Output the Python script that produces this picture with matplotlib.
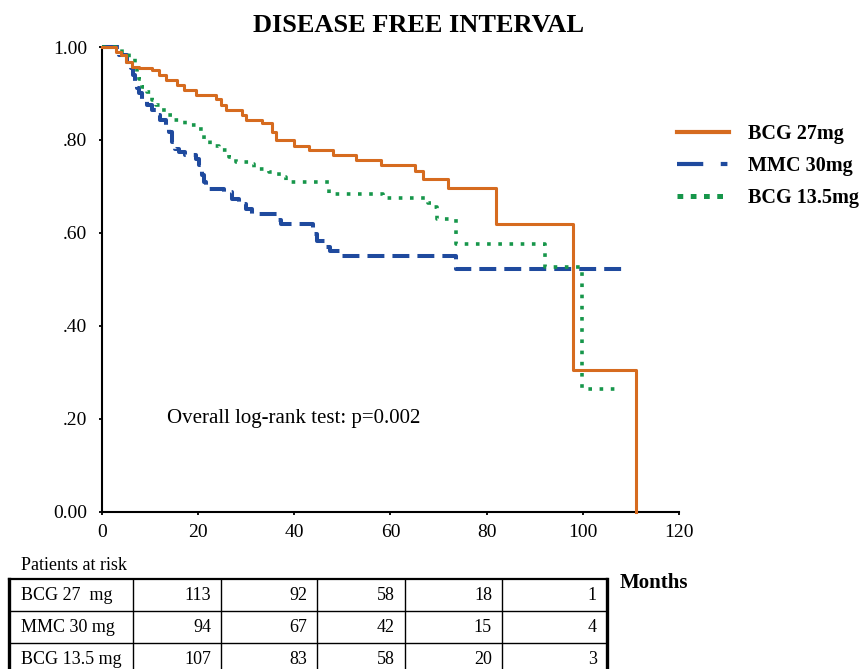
import matplotlib
matplotlib.use('Agg')
import matplotlib.pyplot as plt
from matplotlib.lines import Line2D

plt.rcParams['font.family'] = ['Liberation Serif', 'DejaVu Serif']

# Kaplan-Meier steps (months, proportion disease free)
bcg27_t = [0, 3.0, 4.0, 5.0, 6.3, 7.7, 10.4, 11.9, 13.3, 15.6, 17.0, 19.5, 23.7, 24.7, 25.8,
           29.2, 29.9, 33.3, 35.4, 36.2, 40.0, 43.1, 48.0, 52.8, 58.0, 65.0, 66.7, 71.9,
           82.0, 98.0, 111.0]
bcg27_s = [1.0, 0.99, 0.983, 0.968, 0.957, 0.954, 0.950, 0.94, 0.929, 0.918, 0.907, 0.896,
           0.889, 0.875, 0.864, 0.853, 0.842, 0.836, 0.817, 0.799, 0.788, 0.778, 0.767,
           0.757, 0.747, 0.734, 0.716, 0.697, 0.619, 0.306, 0.0]

mmc30_t = [0, 3.5, 5.2, 6.0, 6.5, 7.0, 7.4, 7.7, 8.3, 9.4, 10.4, 11.2, 12.2, 13.3, 14.0,
           14.6, 15.3, 16.0, 17.4, 19.5, 20.2, 20.8, 21.2, 21.6, 25.4, 27.1, 28.5, 29.9,
           31.3, 36.5, 37.2, 43.8, 44.8, 46.5, 47.5, 49.8, 73.7, 109.4]
mmc30_s = [1.0, 0.983, 0.968, 0.954, 0.94, 0.925, 0.911, 0.900, 0.889, 0.875, 0.864, 0.853,
           0.842, 0.832, 0.817, 0.796, 0.781, 0.774, 0.767, 0.760, 0.745, 0.724, 0.709,
           0.695, 0.687, 0.673, 0.662, 0.652, 0.640, 0.628, 0.619, 0.598, 0.583, 0.569,
           0.560, 0.551, 0.522, 0.522]

bcg135_t = [0, 4.2, 5.6, 7.0, 7.4, 7.7, 8.3, 9.4, 10.4, 11.2, 12.2, 13.3, 14.6, 17.4, 20.2,
            21.2, 22.6, 24.4, 26.5, 27.8, 30.6, 31.7, 34.8, 36.9, 38.2, 47.3, 58.4, 67.8,
            68.8, 69.7, 73.7, 92.0, 99.7, 107.0]
bcg135_s = [1.0, 0.988, 0.976, 0.965, 0.947, 0.932, 0.914, 0.904, 0.886, 0.875, 0.864,
            0.853, 0.842, 0.832, 0.824, 0.803, 0.788, 0.778, 0.763, 0.752, 0.749, 0.738,
            0.731, 0.720, 0.709, 0.684, 0.675, 0.665, 0.655, 0.630, 0.576, 0.526, 0.263,
            0.263]

x_ticks = [0, 20, 40, 60, 80, 100, 120]
y_ticks = [0.0, 0.2, 0.4, 0.6, 0.8, 1.0]
y_labels = ['0.00', '.20', '.40', '.60', '.80', '1.00']

labels = ['BCG 27mg', 'MMC 30mg', 'BCG 13.5mg']
colors = ['#D66B1F', '#1F4A9E', '#16964A']

risk_groups = ['BCG 27  mg', 'MMC 30 mg', 'BCG 13.5 mg']
risk_bcg27 = [113, 92, 58, 18, 1]
risk_mmc30 = [94, 67, 42, 15, 4]
risk_bcg135 = [107, 83, 58, 20, 3]

W, H = 866, 669


def fx(px):
    return px / W


def fy(py):
    return 1 - py / H


fig = plt.figure(figsize=(W / 100, H / 100), dpi=100)
ax = fig.add_axes([fx(101.7), fy(511.7), fx(679.3) - fx(101.7), fy(47) - fy(511.7)])

ax.step(bcg27_t, bcg27_s, where='post', color=colors[0], lw=2.2, clip_on=False, zorder=3)
ax.step(mmc30_t, mmc30_s, where='post', color=colors[1], lw=2.9, clip_on=False,
        dashes=(4.2, 2.0), zorder=2)
ax.step(bcg135_t, bcg135_s, where='post', color=colors[2], lw=2.6, clip_on=False,
        dashes=(1.0, 2.1), zorder=2)

ax.set_xlim(0, 120)
ax.set_ylim(0, 1)
ax.set_xticks(x_ticks)
ax.set_yticks(y_ticks)
ax.set_yticklabels(y_labels)
ax.spines['top'].set_visible(False)
ax.spines['right'].set_visible(False)
for s in ['left', 'bottom']:
    ax.spines[s].set_linewidth(1.5)
ax.tick_params(axis='y', direction='out', length=2.5, width=1.3, pad=8, labelsize=14)
ax.tick_params(axis='x', direction='out', length=2.5, width=1.3, pad=6, labelsize=14)

ax.text(13.5, 0.2, 'Overall log-rank test: p=0.002', fontsize=15, va='center', ha='left')

fig.text(fx(419), fy(26), 'DISEASE FREE INTERVAL', fontsize=19, fontweight='bold',
         ha='center', va='center')

# legend
handles = [
    Line2D([], [], color=colors[0], lw=3.0),
    Line2D([], [], color=colors[1], lw=3.0, dashes=(6.3, 4.2, 1.6, 40)),
    Line2D([], [], color=colors[2], lw=3.6, dashes=(1.15, 1.5)),
]
fig.legend(handles, labels, loc='upper left', bbox_to_anchor=(fx(677), fy(124)),
           bbox_transform=fig.transFigure, frameon=False,
           prop={'weight': 'bold', 'size': 14.5}, handlelength=2.6, handletextpad=0.95,
           borderpad=0, borderaxespad=0, labelspacing=0.6)

# patients at risk table
fig.text(fx(21), fy(565), 'Patients at risk', fontsize=13, ha='left', va='center')
fig.text(fx(620), fy(583), 'Months', fontsize=15, fontweight='bold', ha='left', va='center')

col_edges = [9, 133, 221, 317, 405, 502, 607]
row_edges = [579, 611, 643, 675]
for x in col_edges:
    lw = 2.4 if x in (col_edges[0], col_edges[-1]) else 1.0
    fig.add_artist(Line2D([fx(x), fx(x)], [fy(row_edges[0]), fy(row_edges[-1])],
                          color='black', lw=lw))
for i, y in enumerate(row_edges):
    fig.add_artist(Line2D([fx(col_edges[0]), fx(col_edges[-1])], [fy(y), fy(y)],
                          color='black', lw=1.6 if i == 0 else 1.0))

for r, (name, vals) in enumerate(zip(risk_groups, [risk_bcg27, risk_mmc30, risk_bcg135])):
    yc = (row_edges[r] + row_edges[r + 1]) / 2
    fig.text(fx(col_edges[0] + 12), fy(yc), name, fontsize=13, ha='left', va='center')
    for c, v in enumerate(vals):
        fig.text(fx(col_edges[c + 2] - 10), fy(yc), str(v), fontsize=13, ha='right',
                 va='center')

fig.savefig('out.png', dpi=100)
